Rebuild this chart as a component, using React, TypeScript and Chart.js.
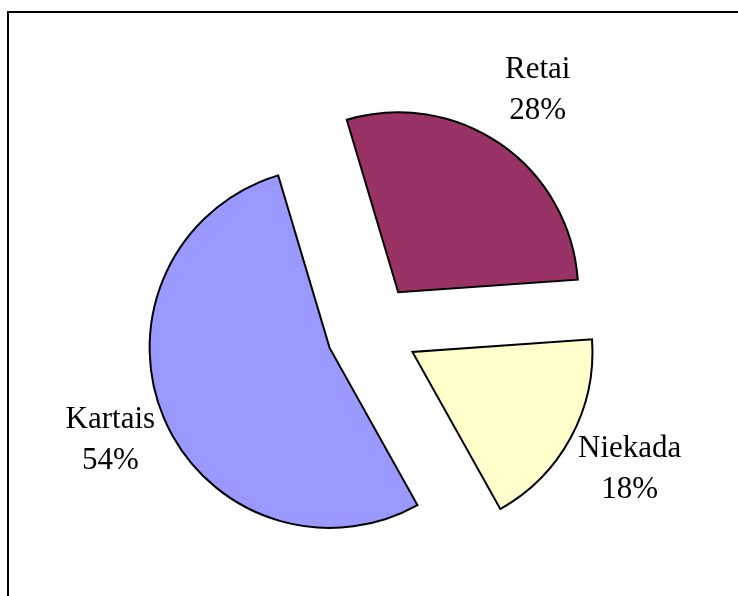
import React, { useEffect, useRef } from "react";
import { Chart, registerables, ArcElement } from "chart.js";

Chart.register(...registerables);

// ---- data ----
const categories = ["Retai", "Niekada", "Kartais"];
const sliceValues = [28.5, 18.0, 53.5];
const percentLabels = ["28%", "18%", "54%"];
const sliceColors = ["#993366", "#FFFFCC", "#9999FF"];

// ---- layout / style constants ----
const EXPLODE_PX = 46;
const PIE_RADIUS = 180;
const LABEL_DIST = [291, 293, 284];
const LABEL_FONT = "31px 'Liberation Serif', 'Times New Roman', serif";
const LABEL_LINE = 41;

// Excel-style explosion: translate every slice outward along its mid angle
// without changing its radius (Chart.js' own offset also grows the big slice).
const baseArcDraw = (ArcElement.prototype as any).draw;
(ArcElement.prototype as any).draw = function (ctx: CanvasRenderingContext2D, area: any) {
  const mid = (this.startAngle + this.endAngle) / 2;
  ctx.save();
  ctx.translate(Math.cos(mid) * EXPLODE_PX, Math.sin(mid) * EXPLODE_PX);
  baseArcDraw.call(this, ctx, area);
  ctx.restore();
};

const labelPlugin = {
  id: "outsideLabels",
  afterDatasetsDraw(chart: any) {
    const meta = chart.getDatasetMeta(0);
    const ctx: CanvasRenderingContext2D = chart.ctx;
    ctx.save();
    ctx.font = LABEL_FONT;
    ctx.fillStyle = "#000";
    ctx.textAlign = "center";
    ctx.textBaseline = "middle";
    meta.data.forEach((arc: any, i: number) => {
      const { x, y, startAngle, endAngle } = arc.getProps(
        ["x", "y", "startAngle", "endAngle"],
        true
      );
      const mid = (startAngle + endAngle) / 2;
      const cx = x + Math.cos(mid) * LABEL_DIST[i];
      const cy = y + Math.sin(mid) * LABEL_DIST[i];
      ctx.fillText(categories[i], cx, cy - LABEL_LINE / 2);
      ctx.fillText(percentLabels[i], cx, cy + LABEL_LINE / 2);
    });
    ctx.restore();
  },
};

export default function App() {
  const canvasRef = useRef<HTMLCanvasElement | null>(null);

  useEffect(() => {
    if (!canvasRef.current) return;
    const chart = new Chart(canvasRef.current, {
      type: "pie",
      data: {
        labels: categories,
        datasets: [
          {
            data: sliceValues,
            backgroundColor: sliceColors,
            borderColor: "#000000",
            borderWidth: 2,
            borderJoinStyle: "miter",
            offset: 0,
            hoverOffset: 0,
          } as any,
        ],
      },
      options: {
        animation: false,
        responsive: false,
        rotation: -16.6,
        radius: PIE_RADIUS,
        layout: { padding: { left: 132, right: 126, top: 90, bottom: 26 } },
        plugins: {
          legend: { display: false },
          tooltip: { enabled: false },
        },
        events: [],
      } as any,
      plugins: [labelPlugin],
    });
    return () => chart.destroy();
  }, []);

  return (
    <div
      style={{
        position: "fixed",
        left: 0,
        top: 0,
        width: 738,
        height: 596,
        background: "#ffffff",
        overflow: "hidden",
      }}
    >
      <div
        style={{
          position: "absolute",
          left: 7,
          top: 11,
          width: 800,
          height: 700,
          borderLeft: "2px solid #000",
          borderTop: "2px solid #000",
        }}
      />
      <canvas
        ref={canvasRef}
        width={738}
        height={596}
        style={{ position: "absolute", left: 0, top: 0, width: 738, height: 596 }}
      />
    </div>
  );
}
